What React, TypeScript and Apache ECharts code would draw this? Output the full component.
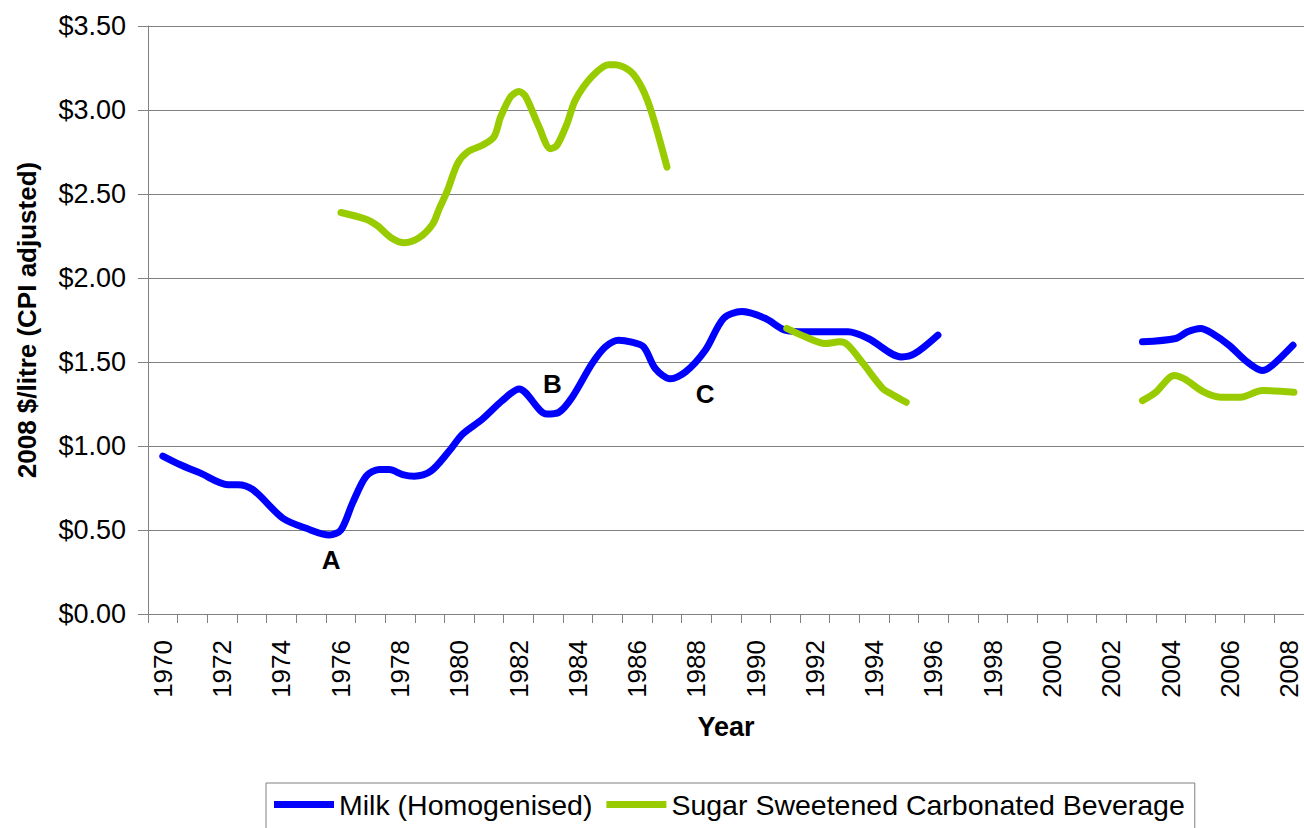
import React, { useEffect, useRef } from "react";
import * as echarts from "echarts";

const yearLabels = [
  "1970", "1971", "1972", "1973", "1974", "1975", "1976", "1977", "1978", "1979",
  "1980", "1981", "1982", "1983", "1984", "1985", "1986", "1987", "1988", "1989",
  "1990", "1991", "1992", "1993", "1994", "1995", "1996", "1997", "1998", "1999",
  "2000", "2001", "2002", "2003", "2004", "2005", "2006", "2007", "2008",
];

const yTicks = [0, 0.5, 1, 1.5, 2, 2.5, 3, 3.5];

const milkName = "Milk (Homogenised)";
const sodaName = "Sugar Sweetened Carbonated Beverage";

// Milk (Homogenised) – fractional year, $/litre (null = gap in data)
const milkYears = [
  1970.0, 1970.57, 1971.25, 1972.2, 1972.53, 1973.04, 1974.05, 1974.84, 1975.62, 1976.01,
  1976.4, 1976.86, 1977.3, 1977.64, 1978.09, 1978.48, 1979.04, 1979.66, 1980.11, 1980.78,
  1981.45, 1982.02, 1982.95, 1983.36, 1983.81, 1984.48, 1984.93, 1985.38, 1985.78, 1986.22,
  1986.62, 1987.12, 1987.63, 1988.3, 1988.92, 1989.53, 1990.32, 1990.99, 1991.67, 1993.12,
  1993.8, 1994.92, 1995.37, 1996.15,
  2000,
  2003.05, 2004.17, 2004.57, 2005.01, 2005.41, 2005.97, 2006.59, 2007.09, 2007.43, 2008.13,
];
const milkValues = [
  0.94, 0.89, 0.84, 0.77, 0.77, 0.74, 0.57, 0.51, 0.47, 0.5,
  0.66, 0.82, 0.86, 0.86, 0.83, 0.82, 0.85, 0.97, 1.07, 1.16,
  1.27, 1.34, 1.19, 1.2, 1.29, 1.49, 1.59, 1.63, 1.62, 1.59,
  1.46, 1.4, 1.44, 1.57, 1.76, 1.8, 1.76, 1.69, 1.68, 1.68,
  1.64, 1.53, 1.55, 1.66,
  null,
  1.62, 1.64, 1.68, 1.7, 1.67, 1.6, 1.5, 1.45, 1.48, 1.6,
];

// Sugar Sweetened Carbonated Beverage – fractional year, $/litre (null = gap)
const sodaYears = [
  1976.01, 1976.86, 1977.25, 1977.7, 1978.15, 1978.65, 1979.1, 1979.32, 1979.6, 1979.94,
  1980.28, 1980.78, 1981.17, 1981.4, 1981.74, 1982.02, 1982.24, 1982.69, 1983.08, 1983.3,
  1983.64, 1983.92, 1984.48, 1985.04, 1985.27, 1985.78, 1986.17, 1986.5, 1987.01,
  1989,
  1991.05, 1991.67, 1992.34, 1992.84, 1993.12, 1993.63, 1994.3, 1994.58, 1995.08,
  2000,
  2003.05, 2003.5, 2004.12, 2004.46, 2005.13, 2005.69, 2006.36, 2007.09, 2008.16,
];
const sodaValues = [
  2.39, 2.35, 2.31, 2.24, 2.21, 2.24, 2.32, 2.41, 2.52, 2.68,
  2.75, 2.79, 2.84, 2.96, 3.08, 3.11, 3.08, 2.9, 2.77, 2.79,
  2.92, 3.06, 3.2, 3.27, 3.27, 3.23, 3.13, 2.98, 2.66,
  null,
  1.7, 1.65, 1.61, 1.62, 1.6, 1.49, 1.34, 1.31, 1.26,
  null,
  1.27, 1.32, 1.42, 1.4, 1.32, 1.29, 1.29, 1.33, 1.32,
];

// Annotations
const noteLabels = ["A", "B", "C"];
const noteYears = [1975.68, 1983.14, 1988.3];
const noteValues = [0.32, 1.37, 1.31];

const FONT = "'Liberation Sans', Arial, Helvetica, sans-serif";
const BLUE = "#0000ff";
const GREEN = "#99cc00";
const GRID_GRAY = "#808080";

function toPairs(xs: number[], ys: (number | null)[]) {
  return xs.map((x, i) => [x, ys[i] === null ? "-" : ys[i]]);
}

export default function App() {
  const ref = useRef<HTMLDivElement>(null);

  useEffect(() => {
    if (!ref.current) return;
    const chart = echarts.init(ref.current, null, { renderer: "svg" });
    const option = {
      animation: false,
      backgroundColor: "#ffffff",
      textStyle: { fontFamily: FONT },
      grid: { left: 148, top: 26, width: 1159, height: 588, containLabel: false },
      legend: {
        left: 266,
        top: 783,
        orient: "horizontal",
        data: [milkName, sodaName],
        icon: "rect",
        itemWidth: 60,
        itemHeight: 7,
        itemGap: 14,
        padding: [7, 10, 12, 8],
        borderColor: GRID_GRAY,
        borderWidth: 1,
        textStyle: { fontSize: 28.5, color: "#000", fontFamily: FONT },
      },
      xAxis: [
        {
          type: "category",
          data: yearLabels,
          boundaryGap: true,
          position: "bottom",
          axisLine: { show: true, lineStyle: { color: GRID_GRAY, width: 1 } },
          axisTick: { show: true, interval: 0, length: 9, lineStyle: { color: GRID_GRAY } },
          axisLabel: {
            interval: 1,
            rotate: 90,
            fontSize: 26,
            margin: 26,
            color: "#000",
            fontFamily: FONT,
          },
          splitLine: { show: false },
          name: "Year",
          nameLocation: "middle",
          nameGap: 99,
          nameTextStyle: { fontSize: 27, fontWeight: "bold", color: "#000", fontFamily: FONT },
        },
        {
          type: "value",
          min: 1969.5,
          max: 2008.5,
          show: false,
          splitLine: { show: false },
        },
      ],
      yAxis: {
        type: "value",
        min: yTicks[0],
        max: yTicks[yTicks.length - 1],
        interval: 0.5,
        axisLine: { show: true, lineStyle: { color: GRID_GRAY, width: 1 } },
        axisTick: { show: true, length: 10, lineStyle: { color: GRID_GRAY } },
        axisLabel: {
          formatter: (v: number) => "$" + v.toFixed(2),
          fontSize: 27,
          margin: 22,
          color: "#000",
          fontFamily: FONT,
        },
        splitLine: { show: true, lineStyle: { color: GRID_GRAY, width: 1 } },
        name: "2008 $/litre (CPI adjusted)",
        nameLocation: "middle",
        nameRotate: 90,
        nameGap: 108,
        nameTextStyle: { fontSize: 26, fontWeight: "bold", color: "#000", fontFamily: FONT },
      },
      series: [
        {
          name: milkName,
          type: "line",
          xAxisIndex: 1,
          data: toPairs(milkYears, milkValues),
          smooth: 0.3,
          symbol: "none",
          showSymbol: false,
          connectNulls: false,
          lineStyle: { color: BLUE, width: 7, cap: "round", join: "round" },
          itemStyle: { color: BLUE },
          markPoint: {
            symbol: "rect",
            symbolSize: 1,
            silent: true,
            itemStyle: { color: "rgba(0,0,0,0)" },
            label: {
              show: true,
              position: "inside",
              formatter: "{b}",
              fontSize: 26,
              fontWeight: "bold",
              color: "#000",
              fontFamily: FONT,
            },
            data: noteLabels.map((l, i) => ({ name: l, coord: [noteYears[i], noteValues[i]] })),
          },
        },
        {
          name: sodaName,
          type: "line",
          xAxisIndex: 1,
          data: toPairs(sodaYears, sodaValues),
          smooth: 0.3,
          symbol: "none",
          showSymbol: false,
          connectNulls: false,
          lineStyle: { color: GREEN, width: 7, cap: "round", join: "round" },
          itemStyle: { color: GREEN },
        },
      ],
    };
    chart.setOption(option as any);
    return () => chart.dispose();
  }, []);

  return (
    <div
      ref={ref}
      style={{ position: "fixed", left: 0, top: 0, width: 1304, height: 828, background: "#fff" }}
    />
  );
}
